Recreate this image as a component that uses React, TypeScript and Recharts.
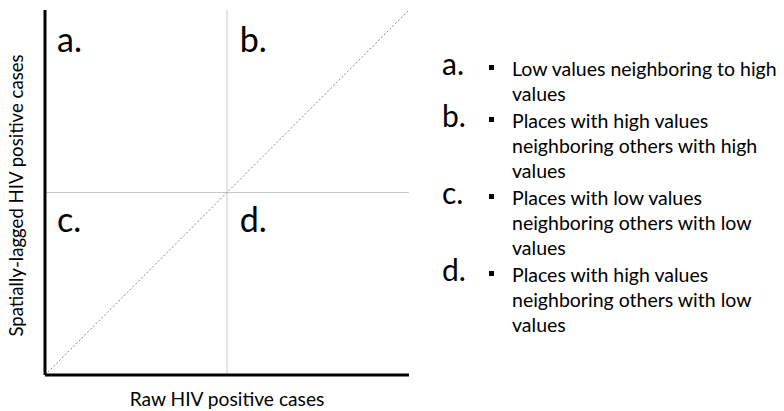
import React from 'react';
import { ComposedChart, Line, Scatter, XAxis, YAxis, ReferenceLine, Legend, Label } from 'recharts';

const diagonalX = [0, 2];
const diagonalY = [0, 2];
const quadrantLabels = ['a.', 'b.', 'c.', 'd.'];
const quadrantX = [0.066, 1.07, 0.066, 1.07];
const quadrantY = [1.77, 1.77, 0.785, 0.785];
const splitX = 1;
const splitY = 1;
const xTitle = 'Raw HIV positive cases';
const yTitle = 'Spatially-lagged HIV positive cases';
const legendLetters = ['a.', 'b.', 'c.', 'd.'];
const legendLines = [
  ['Low values neighboring to high', 'values'],
  ['Places with high values', 'neighboring others with high', 'values'],
  ['Places with low values', 'neighboring others with low', 'values'],
  ['Places with high values', 'neighboring others with low', 'values'],
];

const diagonalData = diagonalX.map((x, i) => ({ x, y: diagonalY[i] }));
const quadrantData = quadrantLabels.map((label, i) => ({ x: quadrantX[i], y: quadrantY[i], label }));

const FONT = 'Lato, "Open Sans", sans-serif';

const QuadShape = (props: any) => (
  <text x={props.cx} y={props.cy} fontSize={34} fontFamily={FONT} fill="#000">
    {props.payload.label}
  </text>
);

const renderLegend = () => (
  <div style={{ fontFamily: FONT, color: '#000', textAlign: 'left' }}>
    {legendLines.map((lines, gi) => (
      <div key={gi} style={{ position: 'relative', marginBottom: 2 }}>
        <span
          style={{
            position: 'absolute',
            left: 2,
            top: -5,
            fontSize: 30,
            lineHeight: '25px',
          }}
        >
          {legendLetters[gi]}
        </span>
        <span
          style={{
            position: 'absolute',
            left: 49,
            top: 9,
            width: 5,
            height: 5,
            background: '#000',
          }}
        />
        <div style={{ marginLeft: 72 }}>
          {lines.map((l, li) => (
            <div key={li} style={{ fontSize: 19.5, lineHeight: '25px', whiteSpace: 'nowrap' }}>
              {l}
            </div>
          ))}
        </div>
      </div>
    ))}
  </div>
);

const renderYTitle = (props: any) => {
  const vb = props.viewBox;
  const cx = vb.x + vb.width - 27;
  const cy = vb.y + vb.height / 2 + 3;
  return (
    <text
      x={cx}
      y={cy}
      transform={`rotate(-90 ${cx} ${cy})`}
      textAnchor="middle"
      dominantBaseline="middle"
      fontSize={18.6}
      fontFamily={FONT}
      fill="#000"
    >
      {yTitle}
    </text>
  );
};

const renderXTitle = (props: any) => {
  const vb = props.viewBox;
  const cx = vb.x + vb.width / 2;
  const cy = vb.y + 31;
  return (
    <text x={cx} y={cy} textAnchor="middle" fontSize={19.2} fontFamily={FONT} fill="#000">
      {xTitle}
    </text>
  );
};

export default function App() {
  return (
    <div style={{ position: 'absolute', left: 0, top: 0, width: 784, height: 411, background: '#fff' }}>
      <ComposedChart
        width={784}
        height={411}
        margin={{ top: 10, left: 15, right: 375, bottom: 6 }}
        data={diagonalData}
      >
        <XAxis
          type="number"
          dataKey="x"
          domain={[0, 2]}
          height={30}
          tick={false}
          tickLine={false}
          axisLine={{ stroke: '#000', strokeWidth: 3 }}
        >
          <Label content={renderXTitle} />
        </XAxis>
        <YAxis
          type="number"
          dataKey="y"
          domain={[0, 2]}
          width={30}
          tick={false}
          tickLine={false}
          axisLine={{ stroke: '#000', strokeWidth: 3 }}
        >
          <Label content={renderYTitle} />
        </YAxis>
        <ReferenceLine x={splitX} stroke="#c8c8c8" strokeWidth={1} />
        <ReferenceLine y={splitY} stroke="#c8c8c8" strokeWidth={1} />
        <Line
          type="linear"
          dataKey="y"
          stroke="#888"
          strokeWidth={1}
          strokeDasharray="2 2"
          dot={false}
          activeDot={false}
          isAnimationActive={false}
          legendType="none"
        />
        <Scatter data={quadrantData} dataKey="y" shape={QuadShape} isAnimationActive={false} legendType="none" />
        <Legend
          content={renderLegend}
          wrapperStyle={{ position: 'absolute', left: 440, top: 56, width: 344, height: 0 }}
        />
      </ComposedChart>
    </div>
  );
}
